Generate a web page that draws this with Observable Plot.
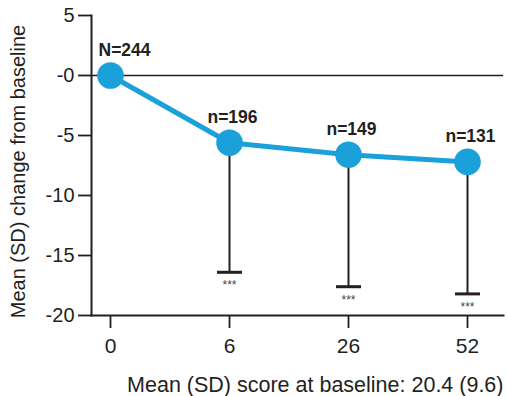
<!DOCTYPE html>
<html>
<head>
<meta charset="utf-8">
<script src="https://cdn.jsdelivr.net/npm/d3@7"></script>
<script src="https://cdn.jsdelivr.net/npm/@observablehq/plot@0.6"></script>
<style>
  html, body { margin: 0; padding: 0; background: #fff; }
  #chart { width: 506px; height: 396px; }
</style>
</head>
<body>
<div id="chart"></div>
<script>
const weeks = ["0", "6", "26", "52"];
const meanChange = [0, -5.6, -6.6, -7.2];
const sdChange = [null, 10.8, 11.0, 11.0];
const nLabels = ["N=244", "n=196", "n=149", "n=131"];
const sigLabels = ["", "***", "***", "***"];
const yTicks = [5, 0, -5, -10, -15, -20];
const yTitle = "Mean (SD) change from baseline";
const captionText = "Mean (SD) score at baseline: 20.4 (9.6)";

const rows = weeks.map((w, i) => ({
  week: w, mean: meanChange[i], sd: sdChange[i],
  low: sdChange[i] == null ? null : meanChange[i] - sdChange[i],
  n: nLabels[i], sig: sigLabels[i], first: i === 0
}));
const errRows = rows.filter(d => d.sd != null);

const ink = "#231f20";
const blue = "#1ba1d9";
const capSymbol = {
  draw(ctx, size) {
    const r = Math.sqrt(size / Math.PI);
    ctx.moveTo(-r, 0);
    ctx.lineTo(r, 0);
  }
};

const chart = Plot.plot({
  width: 506,
  height: 396,
  marginTop: 15,
  marginBottom: 81,
  marginLeft: 91,
  marginRight: 3,
  style: { fontFamily: "'Liberation Sans', Arial, sans-serif", color: ink, background: "#fff" },
  x: { type: "point", domain: weeks, insetLeft: 18, insetRight: 35, padding: 0 },
  y: { domain: [-20, 5] },
  marks: [
    Plot.ruleY([0], { stroke: ink, strokeWidth: 1.5 }),
    Plot.frame({ anchor: "left", stroke: ink, strokeWidth: 2 }),
    Plot.frame({ anchor: "bottom", stroke: ink, strokeWidth: 2 }),
    Plot.axisY({
      ticks: yTicks,
      tickFormat: d => (d <= 0 ? "-" + Math.abs(d) : String(d)),
      tickSize: 13, tickPadding: 4, fontSize: 20, label: null,
      stroke: ink, strokeWidth: 1.8, fill: ink
    }),
    Plot.axisX({
      tickSize: 13, tickPadding: 9.5, fontSize: 21, label: null,
      stroke: ink, strokeWidth: 1.8, fill: ink
    }),
    Plot.ruleX(errRows, { x: "week", y1: "mean", y2: "low", stroke: ink, strokeWidth: 2 }),
    Plot.dot(errRows, { x: "week", y: "low", symbol: capSymbol, r: 12.5, stroke: ink, fill: "none", strokeWidth: 3 }),
    Plot.text(errRows, { x: "week", y: "low", text: "sig", fontSize: 12, fill: "#444", lineAnchor: "bottom", dy: 17 }),
    Plot.line(rows, { x: "week", y: "mean", stroke: blue, strokeWidth: 5 }),
    Plot.dot(rows, { x: "week", y: "mean", r: 13.3, fill: blue, stroke: "none" }),
    Plot.text(rows.filter(d => d.first), { x: "week", y: "mean", text: "n", fontSize: 17.5, fontWeight: "bold", fill: ink, lineAnchor: "bottom", textAnchor: "start", dx: -12, dy: -20 }),
    Plot.text(rows.filter(d => !d.first), { x: "week", y: "mean", text: "n", fontSize: 17.5, fontWeight: "bold", fill: ink, lineAnchor: "bottom", dx: 3, dy: -20 }),
    Plot.text([yTitle], { text: d => d, frameAnchor: "left", textAnchor: "middle", lineAnchor: "middle", rotate: -90, dx: -73, dy: 6, fontSize: 20, fill: ink }),
    Plot.text([captionText], { text: d => d, frameAnchor: "bottom-right", textAnchor: "end", lineAnchor: "bottom", dy: 76, fontSize: 21.5, fill: ink })
  ]
});
document.getElementById("chart").appendChild(chart);
</script>
</body>
</html>
